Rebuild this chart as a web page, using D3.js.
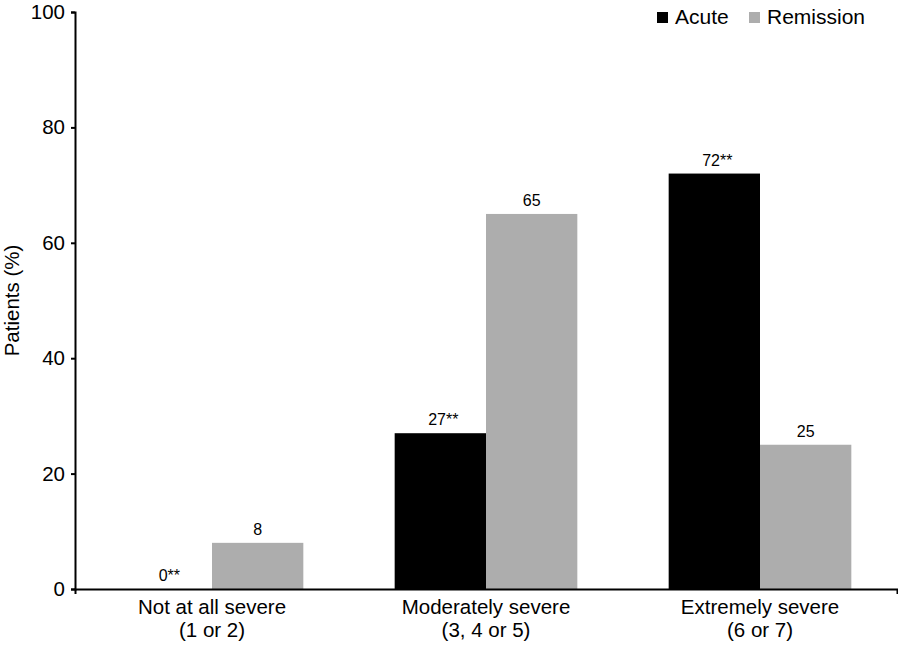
<!DOCTYPE html>
<html>
<head>
<meta charset="utf-8">
<script src="https://cdn.jsdelivr.net/npm/d3@7"></script>
<style>
  body { margin: 0; background: #fff; }
  text { font-family: "Liberation Sans", Arial, sans-serif; fill: #000; }
</style>
</head>
<body>
<div id="chart"></div>
<script>
// data
var categories = [["Not at all severe", "(1 or 2)"], ["Moderately severe", "(3, 4 or 5)"], ["Extremely severe", "(6 or 7)"]];
var series = ["Acute", "Remission"];
var acute = [0, 27, 72];
var remission = [8, 65, 25];
var acuteLabels = ["0**", "27**", "72**"];
var remissionLabels = ["8", "65", "25"];
var yTicks = [0, 20, 40, 60, 80, 100];
var colors = ["#000000", "#adadad"];

var width = 898, height = 645;
var margin = {top: 12, right: 1, bottom: 56, left: 75};
var bigFont = "20.5px";

var svg = d3.select("#chart").append("svg")
    .attr("width", width)
    .attr("height", height);

var x0 = d3.scaleBand()
    .domain(d3.range(categories.length))
    .range([margin.left, width - margin.right])
    .padding(0);

var x1 = d3.scaleBand()
    .domain(series)
    .range([0, x0.bandwidth()])
    .paddingInner(0)
    .paddingOuter(0.5);

var y = d3.scaleLinear()
    .domain([0, 100])
    .range([height - margin.bottom, margin.top]);

var rows = categories.map(function(c, i) {
  return [
    {cat: i, s: "Acute", v: acute[i], label: acuteLabels[i], color: colors[0]},
    {cat: i, s: "Remission", v: remission[i], label: remissionLabels[i], color: colors[1]}
  ];
});

var groups = svg.append("g").selectAll("g")
    .data(rows)
    .enter().append("g")
    .attr("transform", function(d, i) { return "translate(" + x0(i) + ",0)"; });

groups.selectAll("rect")
    .data(function(d) { return d; })
    .enter().append("rect")
    .attr("x", function(d) { return x1(d.s); })
    .attr("width", x1.bandwidth())
    .attr("y", function(d) { return y(d.v); })
    .attr("height", function(d) { return y(0) - y(d.v); })
    .attr("fill", function(d) { return d.color; });

groups.selectAll("text.val")
    .data(function(d) { return d; })
    .enter().append("text")
    .attr("class", "val")
    .attr("x", function(d) { return x1(d.s) + x1.bandwidth() / 2 + (d.label.indexOf("*") > 0 ? 3 : 0); })
    .attr("y", function(d) { return y(d.v) - 8; })
    .attr("text-anchor", "middle")
    .style("font-size", "16px")
    .text(function(d) { return d.label; });

// y axis
var yAxis = svg.append("g")
    .attr("transform", "translate(" + margin.left + ",0)")
    .call(d3.axisLeft(y).tickValues(yTicks).tickSizeInner(4).tickSizeOuter(4).tickPadding(6));
yAxis.selectAll("text").style("font-size", bigFont).style("font-family", "Liberation Sans, Arial, sans-serif");
yAxis.selectAll("path, line").attr("stroke", "#000").attr("stroke-width", 2);

// x axis
var xAxis = svg.append("g")
    .attr("transform", "translate(0," + y(0) + ")")
    .call(d3.axisBottom(x0).tickSizeInner(0).tickSizeOuter(5).tickFormat(""));
xAxis.selectAll("path").attr("stroke", "#000").attr("stroke-width", 2);

var catLabels = svg.append("g").selectAll("text")
    .data(categories)
    .enter().append("text")
    .attr("x", function(d, i) { return x0(i) + x0.bandwidth() / 2; })
    .attr("y", y(0) + 25)
    .attr("text-anchor", "middle")
    .style("font-size", bigFont);
catLabels.append("tspan")
    .attr("x", function(d, i) { return x0(i) + x0.bandwidth() / 2; })
    .text(function(d) { return d[0]; });
catLabels.append("tspan")
    .attr("x", function(d, i) { return x0(i) + x0.bandwidth() / 2; })
    .attr("dy", 23)
    .text(function(d) { return d[1]; });

// y title
svg.append("text")
    .attr("transform", "translate(19," + ((y(0) + y(100)) / 2) + ") rotate(-90)")
    .attr("text-anchor", "middle")
    .style("font-size", bigFont)
    .text("Patients (%)");

// legend
var legendX = [657, 749];
var legend = svg.append("g").selectAll("g")
    .data(series)
    .enter().append("g")
    .attr("transform", function(d, i) { return "translate(" + legendX[i] + ",12)"; });
legend.append("rect")
    .attr("width", 11).attr("height", 11)
    .attr("fill", function(d, i) { return colors[i]; });
legend.append("text")
    .attr("x", 18).attr("y", 12)
    .style("font-size", "21px")
    .text(function(d) { return d; });
</script>
</body>
</html>
